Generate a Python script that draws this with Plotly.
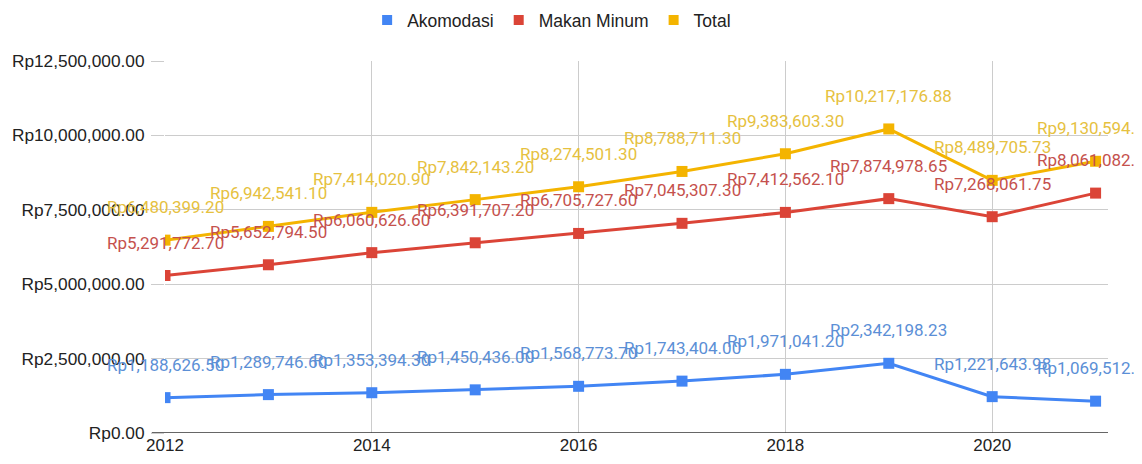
import plotly.graph_objects as go

years = [2012, 2013, 2014, 2015, 2016, 2017, 2018, 2019, 2020, 2021]
akomodasi = [1188626.50, 1289746.60, 1353394.30, 1450436.00, 1568773.70,
             1743404.00, 1971041.20, 2342198.23, 1221643.98, 1069512.28]
makan_minum = [5291772.70, 5652794.50, 6060626.60, 6391707.20, 6705727.60,
               7045307.30, 7412562.10, 7874978.65, 7268061.75, 8061082.45]
total = [6480399.20, 6942541.10, 7414020.90, 7842143.20, 8274501.30,
         8788711.30, 9383603.30, 10217176.88, 8489705.73, 9130594.73]
y_ticks = [0, 2500000, 5000000, 7500000, 10000000, 12500000]
x_ticks = [2012, 2014, 2016, 2018, 2020]

series = [
    ("Akomodasi", akomodasi, "#4285F4", "#5b8fd6"),
    ("Makan Minum", makan_minum, "#DB4437", "#c5514d"),
    ("Total", total, "#F4B400", "#e6c13f"),
]

fig = go.Figure()
for name, vals, color, tcolor in series:
    fig.add_trace(go.Scatter(
        x=years, y=vals, mode="lines+markers", name=name,
        line=dict(color=color, width=3),
        marker=dict(symbol="square", size=11, color=color),
        showlegend=False,
    ))
for name, vals, color, tcolor in series:
    fig.add_trace(go.Scatter(
        x=[None], y=[None], mode="markers", name=name,
        marker=dict(symbol="square", size=10, color=color),
        showlegend=True,
    ))

annotations = []
for name, vals, color, tcolor in series:
    for x, v in zip(years, vals):
        annotations.append(dict(
            x=x, y=v, xref="x", yref="y", text=f"Rp{v:,.2f}",
            showarrow=False, yshift=33, yanchor="middle", xanchor="center",
            font=dict(family="Roboto", size=17, color=tcolor),
        ))

fig.update_layout(
    width=1134, height=456,
    margin=dict(l=157, r=34, t=53, b=31, autoexpand=False),
    paper_bgcolor="white", plot_bgcolor="white",
    annotations=annotations,
    showlegend=True,
    legend=dict(orientation="h", x=0.41, xanchor="center", y=1.11, yanchor="middle",
                font=dict(family="Liberation Sans", size=17.5, color="#222222"),
                itemclick=False),
    xaxis=dict(range=[2012, 2021.12], tickvals=x_ticks,
               showgrid=True, gridcolor="#cccccc", gridwidth=1,
               zeroline=False, showline=False, ticks="", automargin=False,
               tickfont=dict(family="Liberation Sans", size=17, color="#222222")),
    yaxis=dict(range=[0, 12500000], tickvals=y_ticks,
               ticktext=[f"Rp{v:,.2f}" for v in y_ticks],
               showgrid=True, gridcolor="#cccccc", gridwidth=1,
               zeroline=False, showline=False, automargin=False,
               ticks="outside", ticklen=13, tickcolor="#cccccc",
               ticklabelstandoff=3,
               tickfont=dict(family="Liberation Sans", size=17.3, color="#222222")),
    shapes=[dict(type="line", xref="paper", yref="y", x0=-0.014, x1=1, y0=0, y1=0,
                 line=dict(color="#333333", width=1.5))],
)

fig.write_html("out.html")
